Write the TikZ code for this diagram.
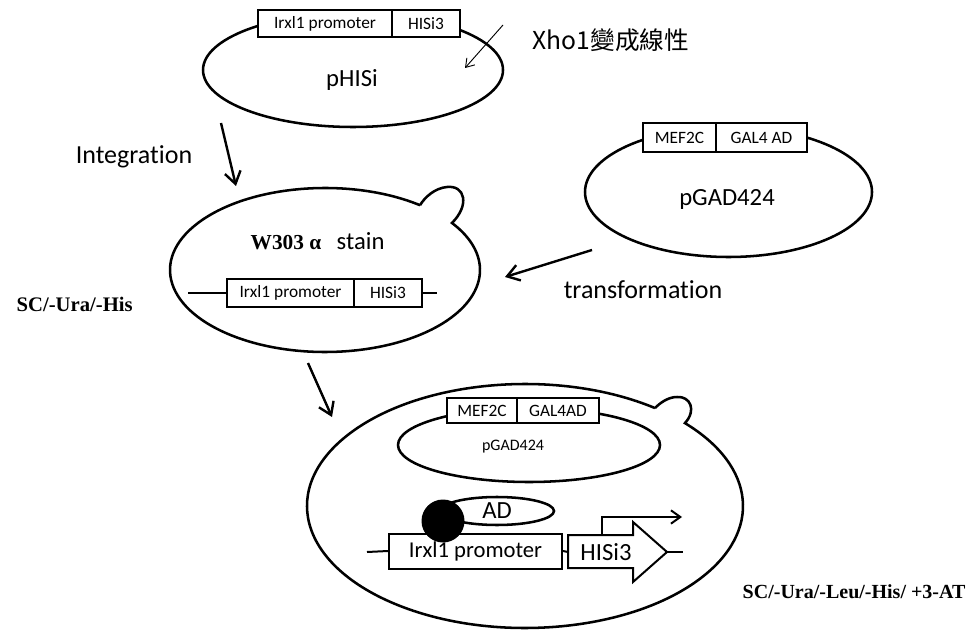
\documentclass[tikz,border=0pt]{standalone}
\usepackage{fontspec}
\setmainfont{Carlito}[Ligatures={NoCommon}]
\newfontfamily\cjk{Noto Sans CJK TC}
\newfontfamily\tnr{Liberation Serif}
\usetikzlibrary{arrows.meta,shapes.geometric,calc}
\def\pxu{0.75pt}
\newcommand\fs[1]{\fontsize{#1}{#1}\selectfont}

\begin{document}
\begin{tikzpicture}[x=0.75pt,y=-0.75pt,
  plasmid/.style={draw, ellipse, line width=1.9pt, inner sep=0pt},
  cellwall/.style={draw, line width=1.9pt},
  gene/.style={draw, rectangle, line width=1.5pt, fill=white, inner sep=0pt},
  dna/.style={line width=1.5pt},
  flow/.style={line width=1.8pt, -{Straight Barb[length=9pt,width=12pt]}},
  cutarrow/.style={line width=0.7pt, -{Straight Barb[length=6pt,width=8pt]}},
  biglbl/.style={font=\fs{18.5}},
  steplbl/.style={font=\fs{19.5}},
  genelbl/.style={font=\fs{13}},
  medium/.style={anchor=base west, font=\tnr\bfseries\fs{15.5}}
]
\useasboundingbox (0,0) rectangle (970,634);

% ---- pHISi plasmid ----
\node[plasmid, minimum width=300*\pxu, minimum height=114*\pxu] (phisi) at (353,70) {};
\node[gene, genelbl, minimum width=134*\pxu, minimum height=27*\pxu] (phisiprom) at (325,23.5) {Irxl1 promoter};
\node[gene, genelbl, minimum width=68*\pxu, minimum height=27*\pxu] (phisihis) at (426,23.5) {HISi3};
\node[biglbl] (phisiname) at (352,80) {pHISi};

% linearisation with Xho1
\node[anchor=west, font=\cjk\fs{18.5}] (xho) at (528,40) {Xho1變成線性};
\coordinate (cutfrom) at (503,25);
\coordinate (cutto) at (465,68);
\draw[cutarrow] (cutfrom) -- (cutto);

% ---- integration into yeast ----
\node[steplbl] (integ) at (134,157) {Integration};
\coordinate (intfrom) at (221,123);
\coordinate (intto) at (236,186);
\draw[flow] (intfrom) -- (intto);

% budding yeast cell (W303)
\draw[cellwall] (325,270) ++(-52.2:155 and 82) coordinate (budA)
  arc[start angle=-52.2, end angle=-395, x radius=155, y radius=82]
  .. controls (470,205) and (465,185) .. (447,187)
  .. controls (435,188) and (425,197) .. (budA);
\node[anchor=base west, font=\tnr\bfseries\fs{16}] (w303) at (246,250) {W303 α};
\node[anchor=base west, biglbl] (stain) at (332,250) {stain};

\coordinate (chromL) at (188,293);
\coordinate (chromR) at (437,293);
\node[gene, genelbl, minimum width=127*\pxu, minimum height=28*\pxu] (chromprom) at (290.5,293) {Irxl1 promoter};
\node[gene, genelbl, minimum width=68*\pxu, minimum height=28*\pxu] (chromhis) at (388,293) {HISi3};
\draw[dna] (chromL) -- (chromprom.west);
\draw[dna] (chromhis.east) -- (chromR);

\node[medium] (medium1) at (12,312) {SC/-Ura/-His};

% ---- pGAD424 plasmid ----
\node[plasmid, minimum width=287*\pxu, minimum height=130*\pxu] (pgad) at (728.5,192) {};
\node[gene, genelbl, minimum width=73*\pxu, minimum height=29*\pxu] (pgadmef) at (679.5,137.5) {MEF2C};
\node[gene, genelbl, minimum width=91*\pxu, minimum height=29*\pxu] (pgadgal) at (761.5,137.5) {GAL4 AD};
\node[biglbl] (pgadname) at (727,199) {pGAD424};

\coordinate (trfrom) at (592,250);
\coordinate (trto) at (505,277);
\draw[flow] (trfrom) -- (trto);
\node[steplbl] (transf) at (643,290) {transformation};

% ---- transformed cell ----
\coordinate (selfrom) at (308,363);
\coordinate (selto) at (332,417);
\draw[flow] (selfrom) -- (selto);

\draw[cellwall] (525,506) ++(-53.4:218 and 122) coordinate (bud2A)
  arc[start angle=-53.4, end angle=-402.8, x radius=218, y radius=122]
  .. controls (697,410) and (690,396) .. (677,397)
  .. controls (668,397) and (660,403) .. (bud2A);

\node[plasmid, minimum width=262*\pxu, minimum height=74*\pxu] (inpgad) at (529,445) {};
\node[gene, genelbl, minimum width=70*\pxu, minimum height=25*\pxu] (inmef) at (482,410.5) {MEF2C};
\node[gene, genelbl, minimum width=82*\pxu, minimum height=25*\pxu] (ingal) at (558,410.5) {GAL4AD};
\node[font=\fs{12}] (inpgadname) at (513,447) {pGAD424};

\node[plasmid, minimum width=114*\pxu, minimum height=28*\pxu, biglbl] (ad) at (497,511) {AD};

\coordinate (repL) at (367,552);
\coordinate (repR) at (683,552);
\node[gene, font=\fs{17}, minimum width=173*\pxu, minimum height=35*\pxu] (repprom) at (475.5,551) {Irxl1 promoter};
\draw[dna] (repL) -- (repprom.west);
\draw[gene] (568,535) coordinate (hisstart) -- (633,535) -- (633,522) -- (667,552) coordinate (histip)
  -- (633,582) -- (633,568) -- (568,568) -- cycle;
\node[biglbl] (reporter) at (606,552) {HISi3};
\draw[dna] (repprom.east) -- (568,552);
\draw[dna] (histip) -- (repR);

\coordinate (tss) at (602,535);
\coordinate (tssend) at (682,517);
\draw[line width=1.5pt, -{Straight Barb[length=7pt,width=10pt]}] (tss) |- (tssend);

\node[circle, fill=black, minimum size=43*\pxu, inner sep=0pt] (bound) at (443,521) {};

\node[medium, font=\tnr\bfseries\fs{15}] (medium2) at (738,598) {SC/-Ura/-Leu/-His/ +3-AT};
\end{tikzpicture}
\end{document}
